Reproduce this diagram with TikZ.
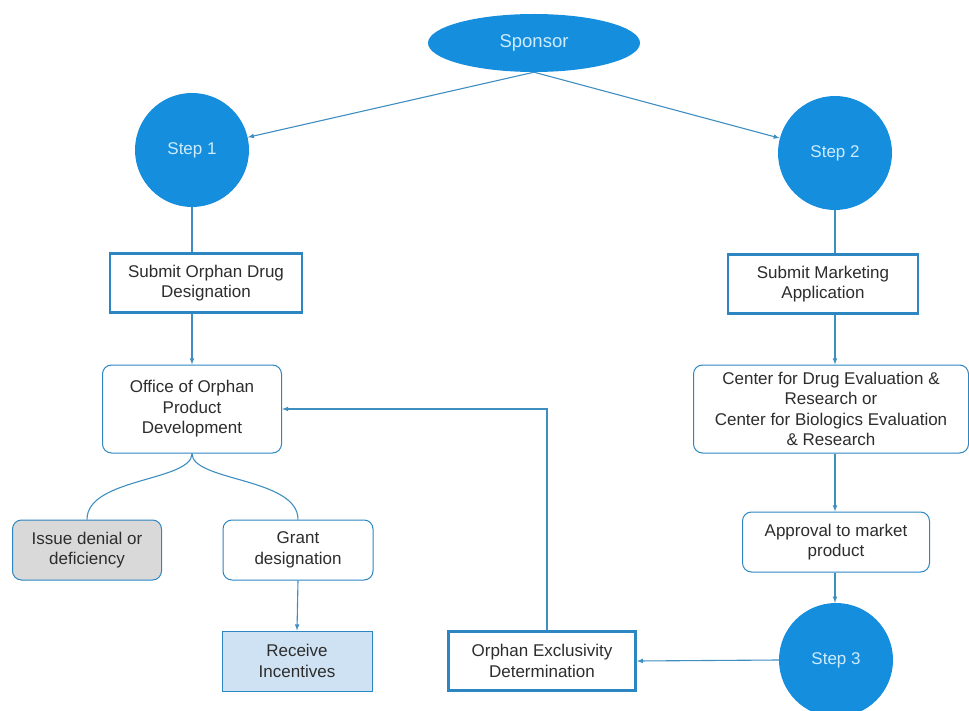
\documentclass[tikz,border=0pt]{standalone}
\usepackage{fontspec}
\setmainfont{Liberation Sans}
\usetikzlibrary{positioning,shapes.geometric}

\definecolor{stepblue}{RGB}{22,142,222}
\definecolor{steptext}{RGB}{205,236,255}
\definecolor{linkblue}{RGB}{62,142,192}
\definecolor{boxedge}{RGB}{44,134,194}
\definecolor{denygray}{RGB}{217,217,217}
\definecolor{incfill}{RGB}{207,226,243}
\definecolor{inktext}{RGB}{45,45,45}

\begin{document}
\begin{tikzpicture}[x=1pt,y=-1pt,
  every node/.style={font=\fontsize{17}{20.5}\selectfont,text=inktext,align=center,inner sep=0pt},
  stepnode/.style={circle,fill=stepblue,minimum size=114pt,text=steptext},
  heavybox/.style={draw=boxedge,line width=2.6pt,fill=white,minimum height=59pt},
  softbox/.style={draw=boxedge,line width=1pt,rounded corners=9pt,fill=white},
  link/.style={draw=linkblue,line width=1.1pt},
  arrowlink/.style={link,-latex}]
  \useasboundingbox (0,0) rectangle (969,711);
  \node[ellipse,fill=stepblue,text=steptext,minimum width=212pt,minimum height=58pt,
    font=\fontsize{18.5}{22}\selectfont] (sponsor) at (534,43) {Sponsor};
  \node[stepnode] (step1) at (192,150) {Step 1};
  \node[stepnode] (step2) at (835,153) {Step 2};
  \node[stepnode] (step3) at (836,660) {Step 3};
  \node[heavybox,minimum width=192pt] (submit) at (206,283) {Submit Orphan Drug\\Designation};
  \node[heavybox,minimum width=190pt] (market) at (823,284) {Submit Marketing\\Application};
  \node[softbox,minimum width=179pt,minimum height=88pt] (office) at (192,409)
    {Office of Orphan\\Product\\Development};
  \node[softbox,minimum width=275pt,minimum height=88pt] (center) at (831,409)
    {Center for Drug Evaluation \&\\Research or\\Center for Biologics Evaluation\\\& Research};
  \node[softbox,fill=denygray,minimum width=149pt,minimum height=60pt] (deny) at (87,550)
    {Issue denial or\\deficiency};
  \node[softbox,minimum width=150pt,minimum height=60pt] (grant) at (298,550)
    {Grant\\designation};
  \node[draw=boxedge,line width=1pt,fill=incfill,minimum width=150pt,minimum height=60pt]
    (incent) at (297,661) {Receive\\Incentives};
  \node[softbox,minimum width=187pt,minimum height=60pt] (approve) at (836,542)
    {Approval to market\\product};
  \node[heavybox,minimum width=187pt] (excl) at (542,661) {Orphan Exclusivity\\Determination};

  \draw[arrowlink] (sponsor.south) -- (step1);
  \draw[arrowlink] (sponsor.south) -- (step2);
  \draw[link] (step1.south) -- (step1.south |- submit.north);
  \draw[link] (step2.south) -- (step2.south |- market.north);
  \draw[arrowlink] (step1.south |- submit.south) -- (office.north);
  \draw[arrowlink] (step2.south |- market.south) -- (step2.south |- center.north);
  \draw[arrowlink] (step2.south |- center.south) -- (step2.south |- approve.north);
  \draw[arrowlink] (step2.south |- approve.south) -- (step3.north -| step2.south);
  \draw[link] (office.south) .. controls +(0,28) and +(0,-42) .. (deny.north);
  \draw[link] (office.south) .. controls +(0,28) and +(0,-42) .. (grant.north);
  \draw[arrowlink] (grant.south) -- (incent.north);
  \draw[arrowlink] (step3.west) -- (excl.east);
  \coordinate (loopup) at (547,0);
  \draw[arrowlink] (loopup |- excl.north) |- (office.east);
\end{tikzpicture}
\end{document}
